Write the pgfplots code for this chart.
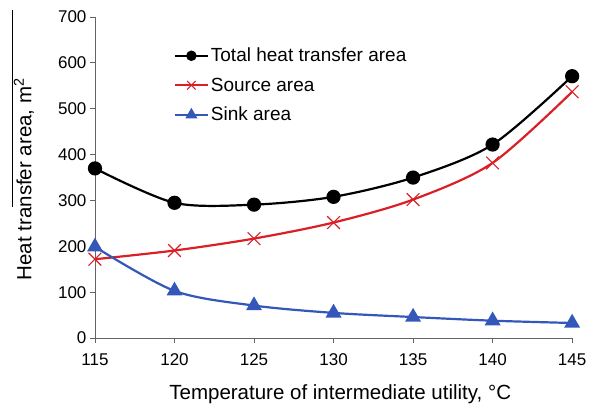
\documentclass[border=0pt]{standalone}
\usepackage{pgfplots}
\pgfplotsset{compat=1.18}
\usepackage{fontspec}
\setmainfont{Liberation Sans}
\definecolor{cred}{RGB}{218,32,38}
\definecolor{cblue}{RGB}{52,88,186}
\definecolor{caxis}{RGB}{100,100,100}
\begin{document}
\begin{tikzpicture}
\begin{axis}[
  scale only axis, width=477pt, height=321pt,
  xmin=115, xmax=145, ymin=0, ymax=700,
  xtick={115,120,...,145}, ytick={0,100,...,700},
  axis lines*=left,
  axis line style={line width=0.9pt, color=caxis},
  tick style={line width=0.9pt, color=caxis},
  tick align=outside, major tick length=5pt,
  /pgf/number format/assume math mode=true,
  /pgf/number format/1000 sep={},
  tick label style={font=\fontsize{17}{19}\selectfont, text=black},
  xticklabel style={yshift=-7pt},
  xlabel={Temperature of intermediate utility, °C},
  ylabel={Heat transfer area, m\textsuperscript{2}},
  label style={font=\fontsize{20.5}{22}\selectfont},
  xlabel style={at={(axis description cs:0.514,-0.190)}, anchor=base},
  ylabel style={at={(axis description cs:-0.133,0.495)}, anchor=base},
  legend style={draw=none, fill=none, at={(rel axis cs:0.165,0.91)}, anchor=north west,
    font=\fontsize{19}{21}\selectfont, row sep=10.5pt, inner sep=0pt},
  legend cell align=left,
  legend image code/.code={\draw[#1] (0pt,0pt) -- (33pt,0pt); \draw[#1, only marks] plot coordinates {(16.5pt,0pt)};},
  clip=false,
]
\path (rel axis cs:-0.199,-0.212) rectangle (rel axis cs:1.050,1.053);
\addlegendimage{black, line width=2pt, mark=*, mark size=4.2pt}
\addlegendentry{Total heat transfer area}
\addlegendimage{cred, line width=2pt, mark=x, mark size=6pt, mark options={line width=1pt}}
\addlegendentry{Source area}
\addlegendimage{cblue, line width=2pt, mark=triangle*, mark size=5pt}
\addlegendentry{Sink area}
\addplot[black, line width=2.2pt, smooth, mark=*, mark size=6pt, forget plot] coordinates {
(115,370) (120,295) (125,291) (130,308) (135,350) (140,422) (145,571)};
\addplot[cred, line width=2.2pt, smooth, mark=x, mark size=9pt, mark options={line width=1.1pt}, forget plot] coordinates {
(115,172) (120,191) (125,217) (130,252) (135,302) (140,382) (145,537)};
\addplot[cblue, line width=2.2pt, smooth, mark=triangle*, mark size=7pt, forget plot] coordinates {
(115,199) (120,103) (125,71) (130,55) (135,46) (140,38) (145,33)};
\draw[black, line width=0.8pt] (rel axis cs:-0.172,1.022) -- (rel axis cs:-0.172,0.408);
\end{axis}
\end{tikzpicture}
\end{document}
